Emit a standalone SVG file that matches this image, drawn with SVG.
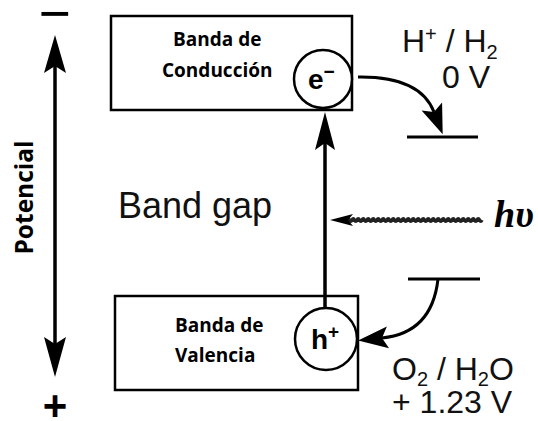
<svg xmlns="http://www.w3.org/2000/svg" width="538" height="421" viewBox="0 0 538 421">
<style>
.box{fill:#fff;stroke:#000;stroke-width:2.5}
.circ{fill:#fff;stroke:#000;stroke-width:2.5}
.ln{fill:none;stroke:#000;stroke-width:3.5}
.cv{fill:none;stroke:#000;stroke-width:3}
.hd{fill:#000;stroke:none}
.lbl{font-family:"Open Sans","Liberation Sans",sans-serif;font-weight:bold;font-size:19px;fill:#000}
.hv{font-family:"Liberation Sans",Arial,sans-serif;font-size:32px;fill:#111}
.ch{font-family:"Liberation Sans",Arial,sans-serif;font-weight:bold;font-size:28px;fill:#000}
</style>
<defs>
<marker id="cvh" viewBox="-8 -12 34 24" refX="0" refY="0" markerWidth="34" markerHeight="24" markerUnits="userSpaceOnUse" orient="auto">
<path d="M24,0 L-6,-11 L0,0 L-6,11 Z" fill="#000"/>
</marker>
</defs>
<g id="potential-axis">
<text x="54.5" y="32" text-anchor="middle" style="font-family:'Liberation Sans',Arial,sans-serif;font-size:55px">−</text>
<text x="55" y="420" text-anchor="middle" style="font-family:'Liberation Sans',Arial,sans-serif;font-weight:bold;font-size:42px">+</text>
<text transform="translate(33,197.5) rotate(-90)" text-anchor="middle" style="font-family:'Open Sans','Liberation Sans',sans-serif;font-weight:bold;font-size:24.5px">Potencial</text>
</g>
<g id="conduction-band">
<rect class="box" x="111" y="16" width="241" height="94"/>
<text class="lbl" x="173" y="46">Banda de</text>
<text class="lbl" x="162" y="77">Conducción</text>
</g>
<g id="valence-band">
<rect class="box" x="115" y="296" width="243" height="94"/>
<text class="lbl" x="175" y="332">Banda de</text>
<text class="lbl" x="175" y="362">Valencia</text>
</g>
<g id="electron">
<circle class="circ" cx="323" cy="79" r="29"/>
<text class="ch" x="308" y="89">e<tspan font-size="19" dy="-11">−</tspan></text>
</g>
<g id="hole">
<circle class="circ" cx="326" cy="339" r="31"/>
<text class="ch" x="311" y="349">h<tspan font-size="19" dy="-11">+</tspan></text>
</g>
<g id="band-gap-label">
<text x="118" y="218" style="font-family:'Liberation Sans',Arial,sans-serif;font-size:36px;fill:#111">Band gap</text>
</g>
<g id="h2-level">
<line x1="407" y1="137" x2="478" y2="137" stroke="#000" stroke-width="3"/>
<text class="hv" x="402" y="52">H<tspan font-size="20" dy="-11">+</tspan><tspan dy="11"> / H</tspan><tspan font-size="20" dy="7">2</tspan></text>
<text class="hv" x="442" y="88">0 V</text>
</g>
<g id="o2-level">
<line x1="408" y1="279" x2="480" y2="279" stroke="#000" stroke-width="3"/>
<text class="hv" x="392" y="380">O<tspan font-size="20" dy="6">2</tspan><tspan dy="-6"> / H</tspan><tspan font-size="20" dy="6">2</tspan><tspan dy="-6">O</tspan></text>
<text class="hv" x="392" y="413">+ 1.23 V</text>
</g>
<g id="photon">
<text x="494" y="227" style="font-family:'Liberation Serif','Times New Roman',serif;font-weight:bold;font-style:italic;font-size:38px">hυ</text>
</g>
<g id="connectors">
<line class="ln" x1="55" y1="66" x2="55" y2="344"/>
<polygon class="hd" points="55,35 44,73 55,66 66,73"/>
<polygon class="hd" points="55,377 44,337 55,344 66,337"/>
<line class="ln" x1="325" y1="308" x2="325" y2="143"/>
<polygon class="hd" points="325,112 315,150 325,143 335,150"/>
<path class="cv" d="M358,77 Q420,76 434,112" marker-end="url(#cvh)"/>
<path class="cv" d="M438,279 Q432,333 382,338" marker-end="url(#cvh)"/>
<path d="M347,220 q1.25,-2.5 2.5,0 t2.5,0 t2.5,0 t2.5,0 t2.5,0 t2.5,0 t2.5,0 t2.5,0 t2.5,0 t2.5,0 t2.5,0 t2.5,0 t2.5,0 t2.5,0 t2.5,0 t2.5,0 t2.5,0 t2.5,0 t2.5,0 t2.5,0 t2.5,0 t2.5,0 t2.5,0 t2.5,0 t2.5,0 t2.5,0 t2.5,0 t2.5,0 t2.5,0 t2.5,0 t2.5,0 t2.5,0 t2.5,0 t2.5,0 t2.5,0 t2.5,0 t2.5,0 t2.5,0 t2.5,0 t2.5,0 t2.5,0 t2.5,0 t2.5,0 t2.5,0 t2.5,0 t2.5,0 t2.5,0 t2.5,0 t2.5,0 t2.5,0 t2.5,0 t2.5,0 t2.5,0 t2.5,0" fill="none" stroke="#222" stroke-width="3.5"/>
<polygon class="hd" points="330,220 353,214 348,220 353,226"/>
</g>
</svg>
